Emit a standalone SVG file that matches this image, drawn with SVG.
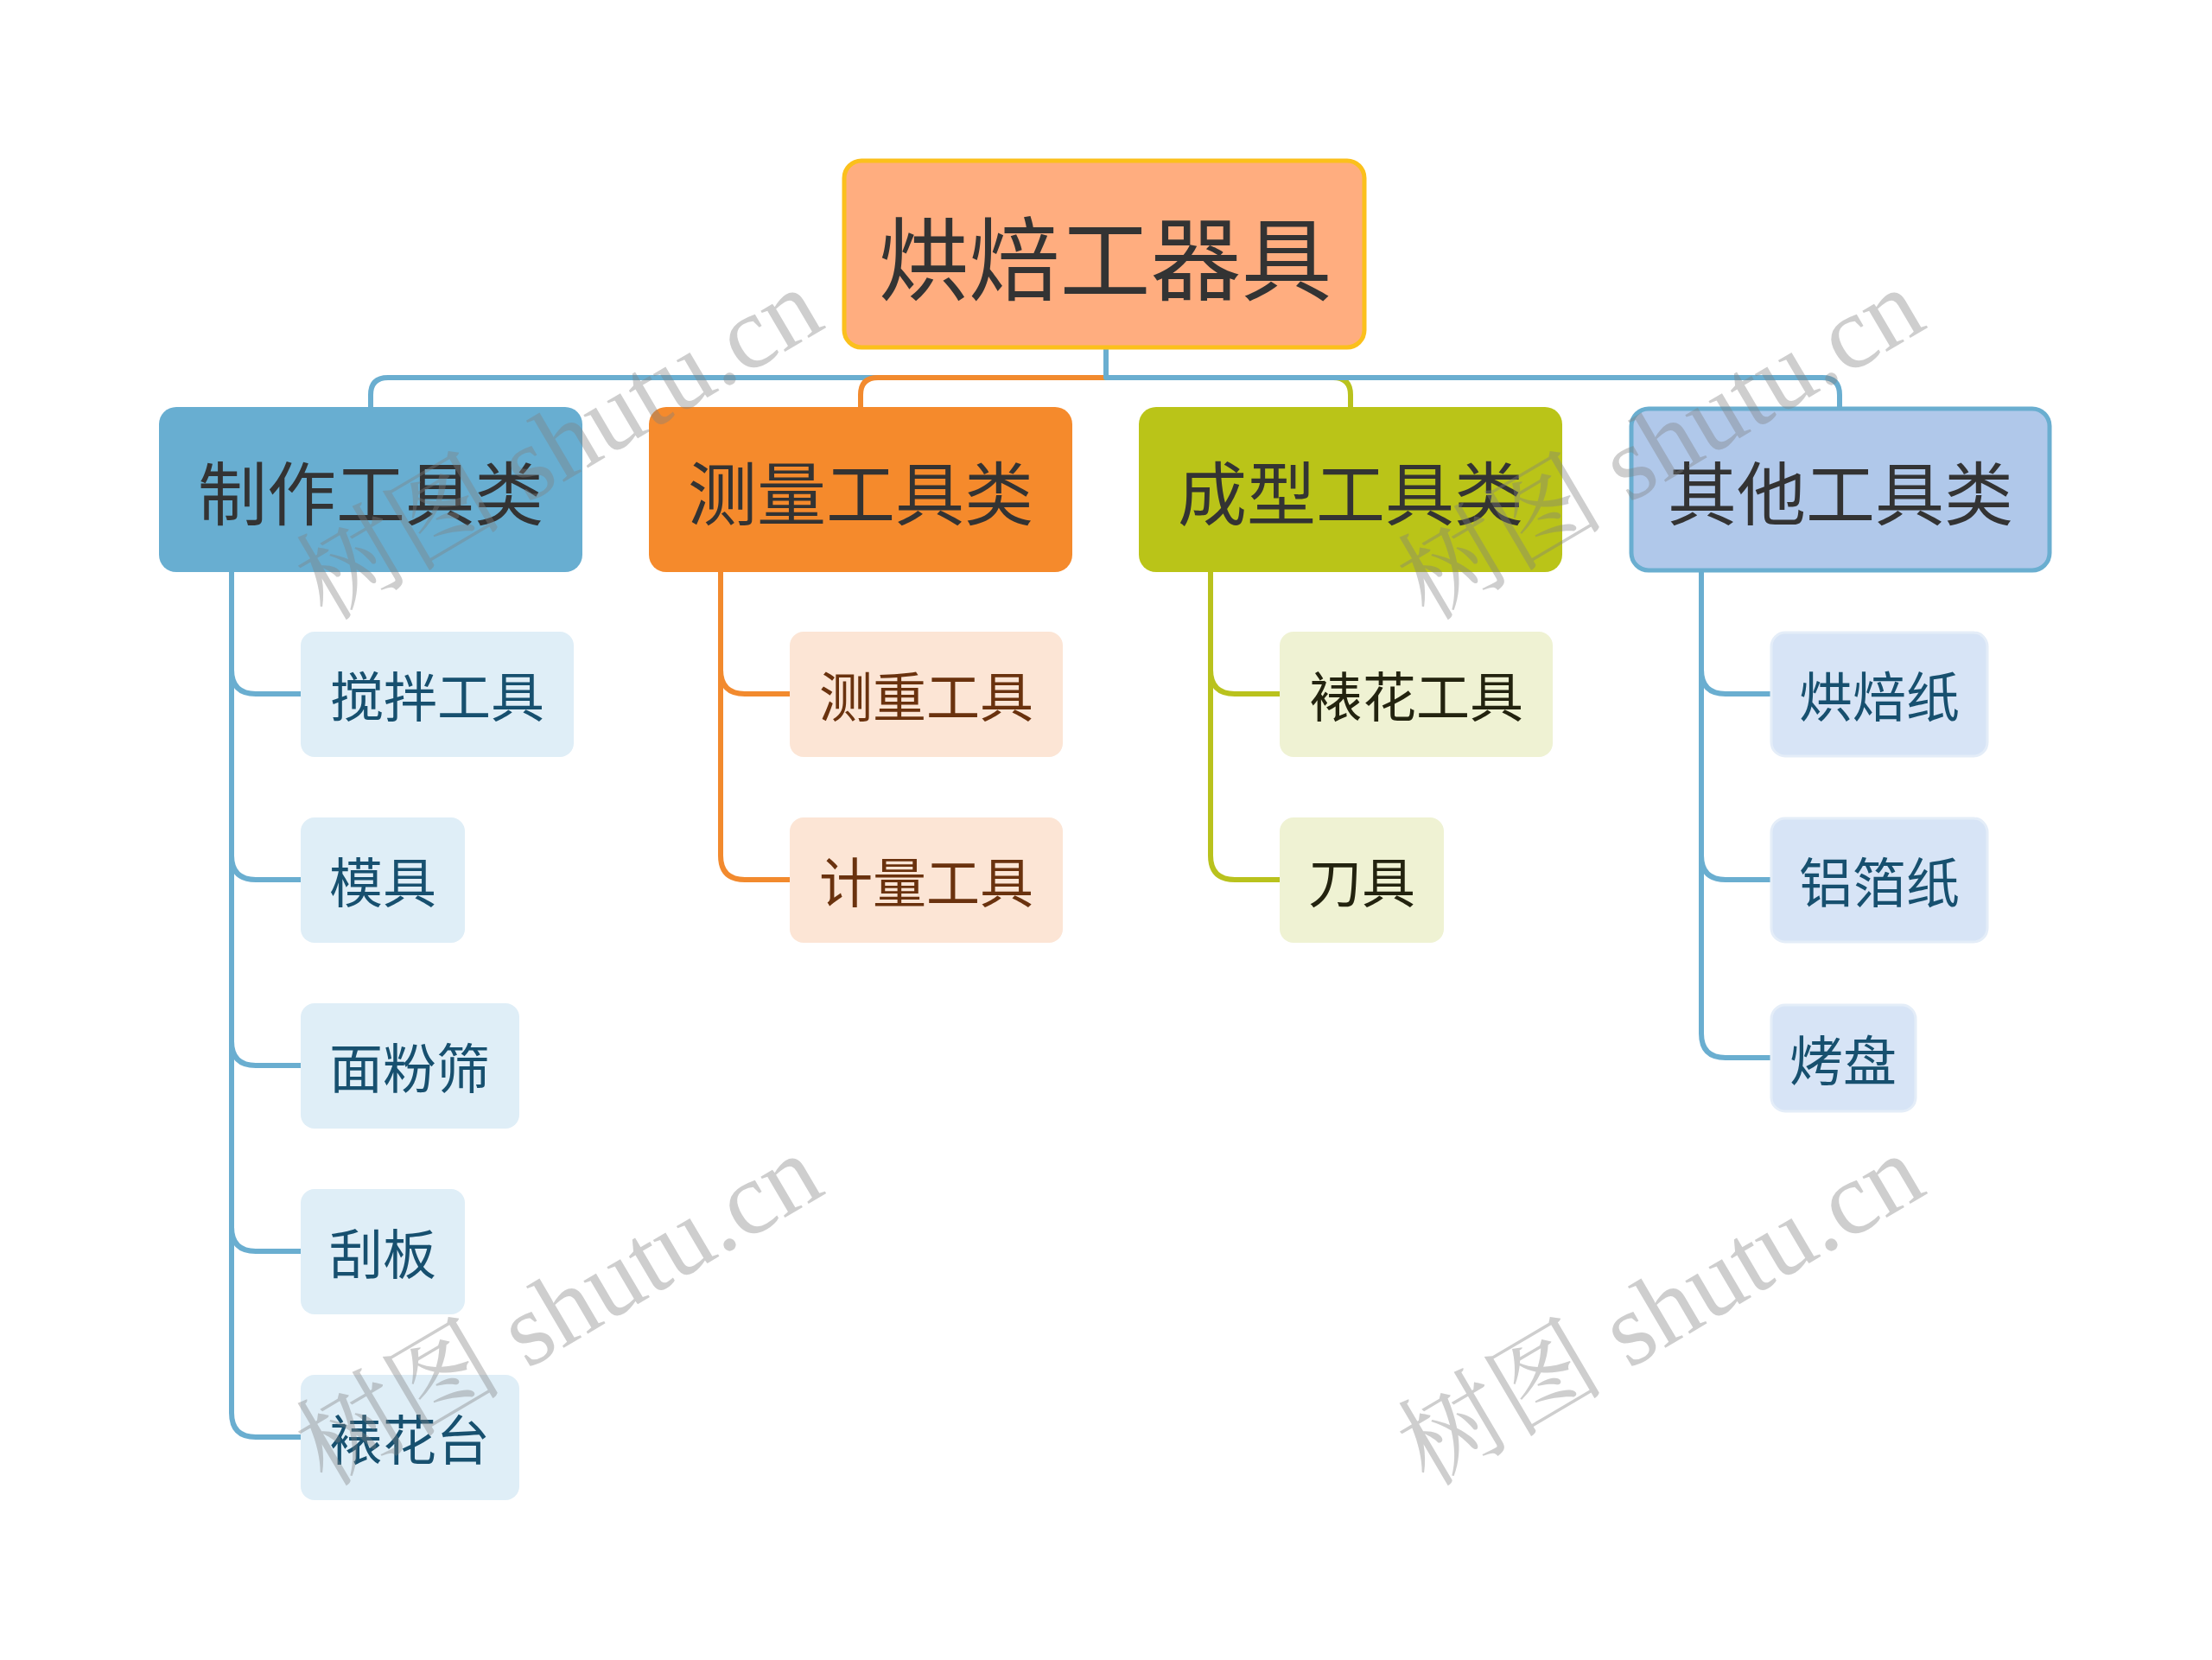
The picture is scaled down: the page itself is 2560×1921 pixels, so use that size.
<svg xmlns="http://www.w3.org/2000/svg" width="2560" height="1921" viewBox="0 0 2560 1921">
<style>
text{font-family:"Noto Sans CJK SC","Noto Sans",sans-serif;text-anchor:middle;dominant-baseline:central}
.c{fill:none;stroke-width:6;stroke-linejoin:round}
.cb{stroke:#6AAED0}.co{stroke:#F28A2E}.cg{stroke:#B9C21D}
.l1 text{font-size:80px;fill:#333333}
.ch text{font-size:62px}
.wm{font-family:"Liberation Serif","Noto Serif CJK SC","Noto Sans CJK SC",serif;font-size:120px;fill:#808080;opacity:0.38;text-anchor:middle;dominant-baseline:central}
</style>
<rect width="2560" height="1921" fill="#FFFFFF"/>
<g id="connectors">
<path class="c cb" d="M1280 403V437H449Q429 437 429 457V472"/>
<path class="c co" d="M1280 403V437H1016Q996 437 996 457V472"/>
<path class="c cg" d="M1280 403V437H1543Q1563 437 1563 457V472"/>
<path class="c cb" d="M1280 403V437H2109Q2129 437 2129 457V472"/>
<path class="c cb" d="M268 661V775Q268 803 296 803H348M268 661V990Q268 1018 296 1018H348M268 661V1205Q268 1233 296 1233H348M268 661V1420Q268 1448 296 1448H348M268 661V1635Q268 1663 296 1663H348"/>
<path class="c co" d="M834 661V775Q834 803 862 803H914M834 661V990Q834 1018 862 1018H914"/>
<path class="c cg" d="M1401 661V775Q1401 803 1429 803H1481M1401 661V990Q1401 1018 1429 1018H1481"/>
<path class="c cb" d="M1969 661V775Q1969 803 1997 803H2049M1969 661V990Q1969 1018 1997 1018H2049M1969 661V1196Q1969 1224 1997 1224H2049"/>
</g>
<g id="root">
<rect x="977" y="186" width="602" height="216" rx="20" fill="#FFAD7F" stroke="#FBC01C" stroke-width="5"/>
<text x="1279" y="293" font-size="105" fill="#333333">烘焙工器具</text>
</g>
<g id="n1" class="l1">
<rect x="184" y="471" width="490" height="191" rx="20" fill="#68AED1"/>
<text x="429" y="566">制作工具类</text>
</g>
<g id="n2" class="l1">
<rect x="751" y="471" width="490" height="191" rx="20" fill="#F58A2C"/>
<text x="996" y="566">测量工具类</text>
</g>
<g id="n3" class="l1">
<rect x="1318" y="471" width="490" height="191" rx="20" fill="#BAC418"/>
<text x="1563" y="566">成型工具类</text>
</g>
<g id="n4" class="l1">
<rect x="1888" y="473" width="484" height="187" rx="20" fill="#B0C8EA" stroke="#6AAED0" stroke-width="5"/>
<text x="2130" y="566">其他工具类</text>
</g>
<g id="n1a" class="ch"><rect x="348" y="731" width="316" height="145" rx="16" fill="#DFEEF7"/><text x="506" y="803" fill="#17506F">搅拌工具</text></g>
<g id="n1b" class="ch"><rect x="348" y="946" width="190" height="145" rx="16" fill="#DFEEF7"/><text x="443" y="1018" fill="#17506F">模具</text></g>
<g id="n1c" class="ch"><rect x="348" y="1161" width="253" height="145" rx="16" fill="#DFEEF7"/><text x="474" y="1233" fill="#17506F">面粉筛</text></g>
<g id="n1d" class="ch"><rect x="348" y="1376" width="190" height="145" rx="16" fill="#DFEEF7"/><text x="443" y="1448" fill="#17506F">刮板</text></g>
<g id="n1e" class="ch"><rect x="348" y="1591" width="253" height="145" rx="16" fill="#DFEEF7"/><text x="474" y="1663" fill="#17506F">裱花台</text></g>
<g id="n2a" class="ch"><rect x="914" y="731" width="316" height="145" rx="16" fill="#FCE5D5"/><text x="1072" y="803" fill="#6A320E">测重工具</text></g>
<g id="n2b" class="ch"><rect x="914" y="946" width="316" height="145" rx="16" fill="#FCE5D5"/><text x="1072" y="1018" fill="#6A320E">计量工具</text></g>
<g id="n3a" class="ch"><rect x="1481" y="731" width="316" height="145" rx="16" fill="#EFF2D3"/><text x="1639" y="803" fill="#23230F">裱花工具</text></g>
<g id="n3b" class="ch"><rect x="1481" y="946" width="190" height="145" rx="16" fill="#EFF2D3"/><text x="1576" y="1018" fill="#23230F">刀具</text></g>
<g id="n4a" class="ch"><rect x="2050" y="732" width="250" height="143" rx="16" fill="#D7E4F6" stroke="#E4EDF8" stroke-width="3"/><text x="2175" y="803" fill="#17506F">烘焙纸</text></g>
<g id="n4b" class="ch"><rect x="2050" y="947" width="250" height="143" rx="16" fill="#D7E4F6" stroke="#E4EDF8" stroke-width="3"/><text x="2175" y="1018" fill="#17506F">铝箔纸</text></g>
<g id="n4c" class="ch"><rect x="2050" y="1163" width="167" height="123" rx="16" fill="#D7E4F6" stroke="#E4EDF8" stroke-width="3"/><text x="2133" y="1224" fill="#17506F">烤盘</text></g>
<g id="watermarks">
<text class="wm" transform="translate(647 514) rotate(-30.5)">树图 shutu.cn</text>
<text class="wm" transform="translate(1922 514) rotate(-30.5)">树图 shutu.cn</text>
<text class="wm" transform="translate(647 1516) rotate(-30.5)">树图 shutu.cn</text>
<text class="wm" transform="translate(1922 1516) rotate(-30.5)">树图 shutu.cn</text>
</g>
</svg>
